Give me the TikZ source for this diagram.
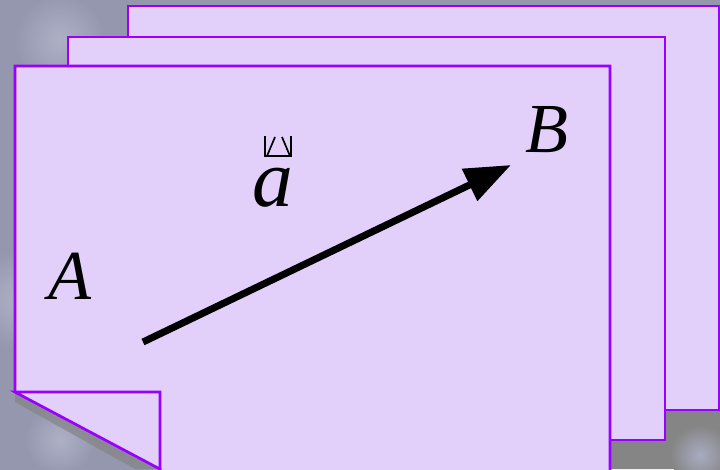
\documentclass[tikz,border=0pt]{standalone}
\usepackage{fontspec}
\setmainfont{Liberation Serif}
\usepackage{tikz}
\usetikzlibrary{arrows.meta,positioning}
\definecolor{marble}{HTML}{9497AE}
\definecolor{marblelight}{HTML}{AEB1C6}
\definecolor{shadowgray}{HTML}{858585}
\definecolor{sheetfill}{HTML}{E2D0FB}
\definecolor{sheetedge}{HTML}{9900FF}
\definecolor{ink}{HTML}{000000}
\tikzset{
  sheet/.style={draw=sheetedge,fill=sheetfill,line width=1.8pt},
  blob/.style={inner color=marblelight,outer color=marble},
  shadowblob/.style={inner color=marblelight!80!marble,outer color=shadowgray},
  ptlabel/.style={font=\fontsize{50}{50}\selectfont\itshape,color=ink,inner sep=0pt},
  veclabel/.style={font=\fontsize{58}{58}\selectfont\itshape,color=ink,inner sep=0pt},
  vecarr/.style={-{Triangle[length=1.15cm,width=0.85cm]},line width=5pt,draw=ink}
}
\begin{document}
\begin{tikzpicture}[x=0.025cm,y=-0.025cm]
    \useasboundingbox (0,0) rectangle (720,469);
    \clip (0,0) rectangle (720,469);
    \fill[marble] (0,0) rectangle (720,469);
    % marble texture
    \shade[blob] (60,40) circle (45);
    \shade[blob] (20,300) circle (50);
    \shade[blob] (70,440) circle (40);
    \fill[shadowgray] (610,440) -- (665,440) -- (665,410) -- (720,410) -- (720,469)
      -- (610,469) -- cycle;
    \shade[shadowblob] (700,455) circle (30);

    % back and middle sheets
    \draw[sheet] (128,6) rectangle (719,410);
    \draw[sheet] (68,37) rectangle (665,440);
    % cut-away under the folded corner
    \fill[marble] (15,392) -- (160,469) -- (160,480) -- (0,480) -- (0,392) -- cycle;
    \shade[blob] (60,440) circle (35);
    \fill[shadowgray,opacity=0.7] (15,392) -- (160,469) -- (135,469) -- (15,402) -- cycle;

    % front sheet with folded corner
    \draw[sheet] (15,66) -- (610,66) -- (610,480) -- (160,480) -- (160,469)
      -- (15,392) -- cycle;
    \draw[sheet] (15,392) -- (160,392) -- (160,469) -- cycle;

    \node[ptlabel] (ptA) at (70,276) {A};
    \node[ptlabel] (ptB) at (547,130) {B};
    \node[veclabel] (vecLabel) at (273,188) {a};
    \draw[line width=1.2pt,color=ink] (265,136) -- (265,156) -- (291,156) -- (291,136)
      (267,156) -- (275,137) (282,137) -- (290,156);

    \coordinate (tail) at (143,342);
    \coordinate (head) at (511,165);
    \draw[vecarr] (tail) -- (head);
\end{tikzpicture}
\end{document}
